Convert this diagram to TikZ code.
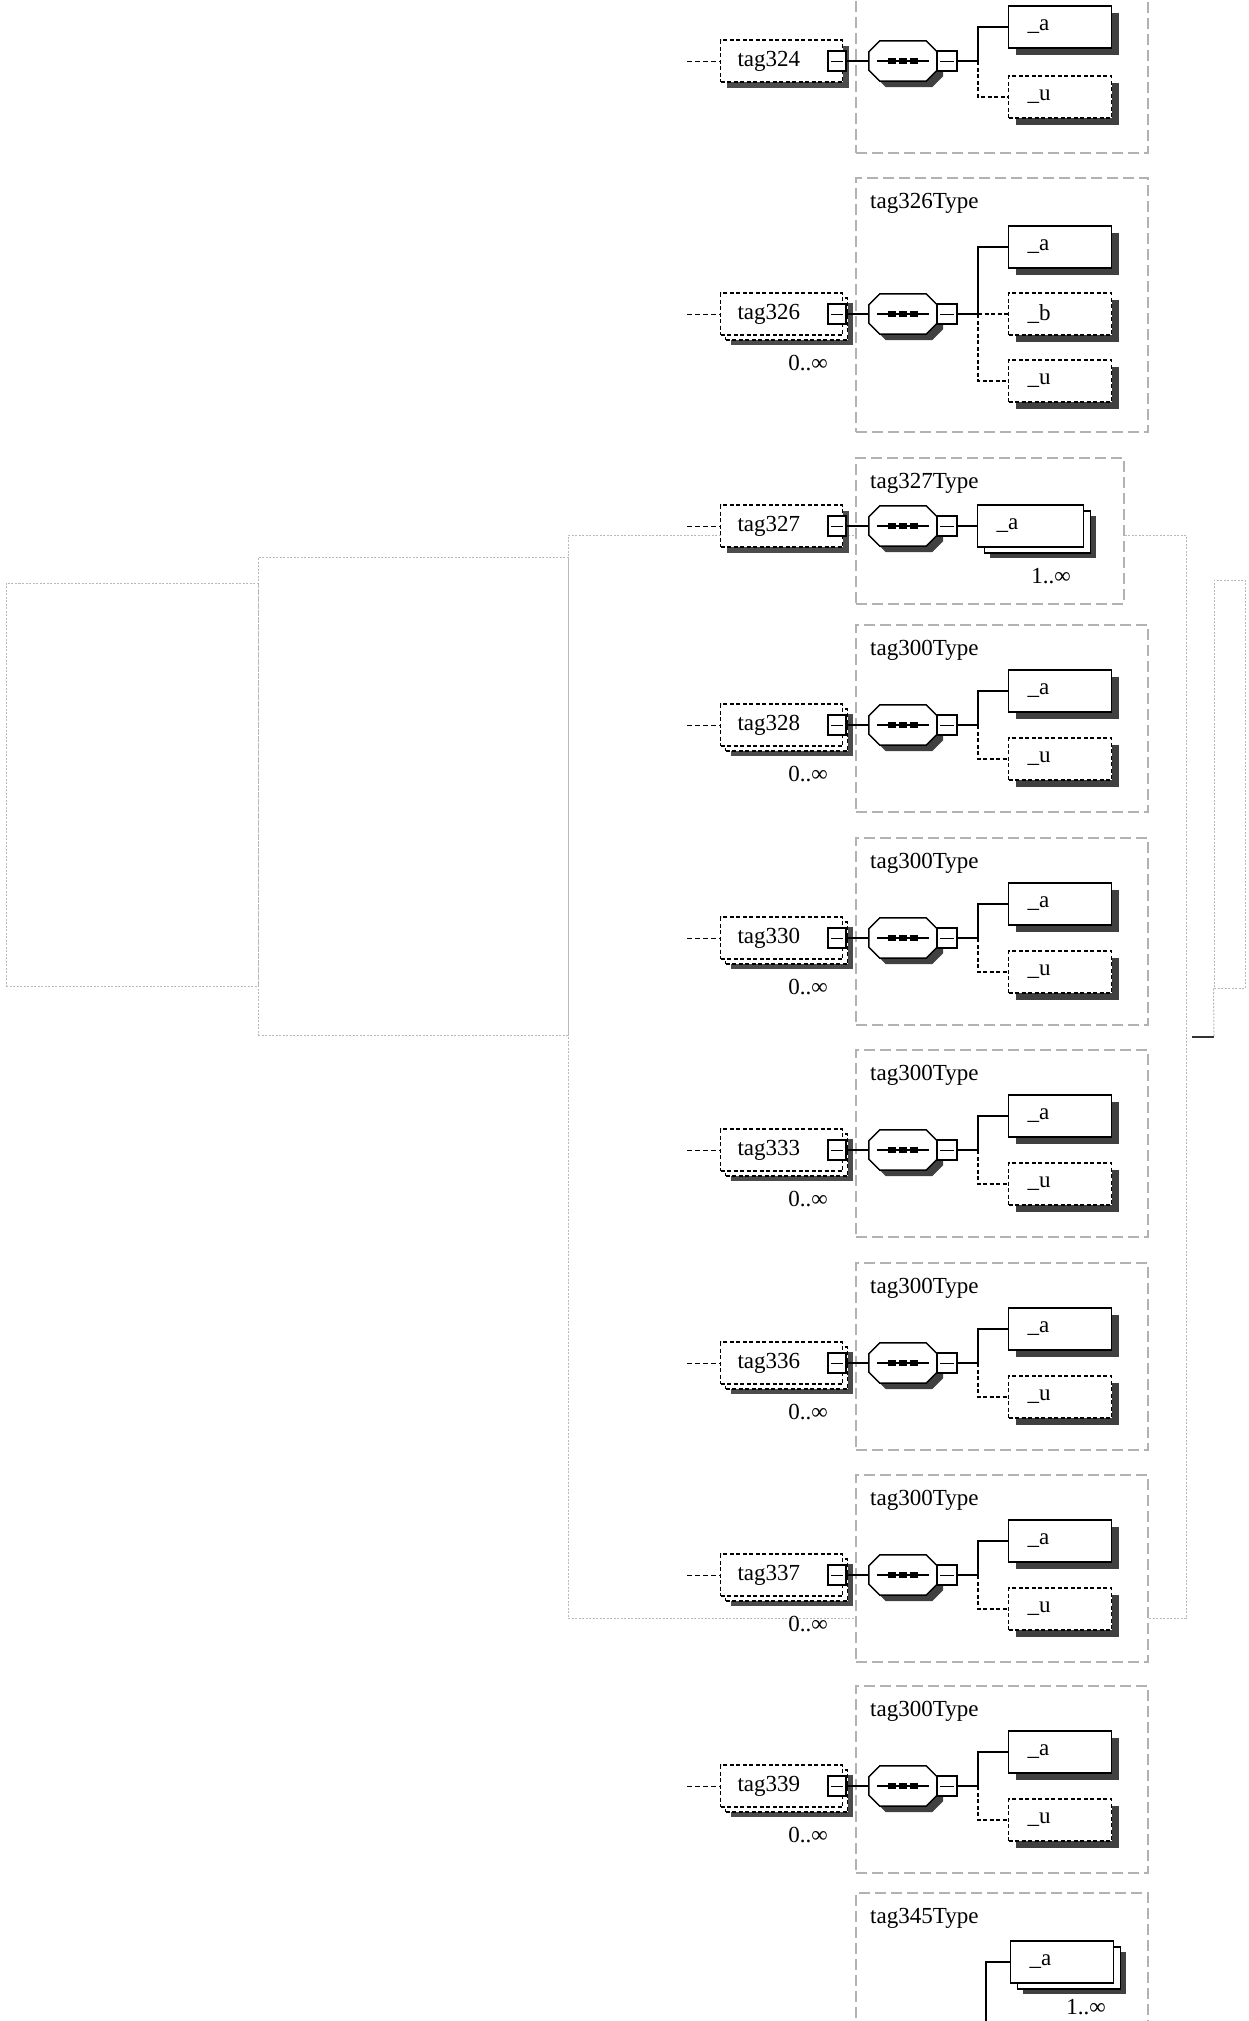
\documentclass[tikz,border=0pt]{standalone}
\usepackage{fontspec}
\setmainfont{Liberation Serif}
\usetikzlibrary{shadows}
\tikzset{
  txt/.style={font=\fontsize{23}{26}\selectfont},
  faintbox/.style={draw=gray!55, line width=1pt, dash pattern=on 2pt off 1.5pt, inner sep=0pt},
  typebox/.style={draw=gray!60, line width=1.2pt, dash pattern=on 11pt off 5pt, fill=white, inner sep=0pt},
  typelabel/.style={txt, anchor=west, inner sep=0pt},
  multlabel/.style={txt, inner sep=0pt},
  elembase/.style={txt, draw=black, line width=1.1pt, dash pattern=on 4pt off 2.5pt, fill=white,
    minimum height=42pt, text width=88pt, align=left, inner xsep=17pt, inner ysep=0pt, anchor=west},
  elemone/.style={elembase, drop shadow={shadow xshift=6pt, shadow yshift=-6pt, fill=black!70, opacity=1, draw=none}},
  elemmany/.style={elembase, drop shadow={shadow xshift=10pt, shadow yshift=-10pt, fill=black!70, opacity=1, draw=none},
    copy shadow={shadow xshift=5pt, shadow yshift=-5pt, draw=black, fill=white, line width=1.1pt, dash pattern=on 4pt off 2.5pt}},
  childbase/.style={txt, draw=black, line width=1.3pt, fill=white, minimum height=42pt, text width=65pt,
    align=left, inner xsep=19pt, inner ysep=0pt, anchor=west},
  childreq/.style={childbase, drop shadow={shadow xshift=7pt, shadow yshift=-7pt, fill=black!75, opacity=1, draw=none}},
  childopt/.style={childreq, dash pattern=on 4pt off 2.5pt, line width=1.1pt},
  childmany/.style={childbase, drop shadow={shadow xshift=12pt, shadow yshift=-11pt, fill=black!75, opacity=1, draw=none},
    copy shadow={shadow xshift=7pt, shadow yshift=-6pt, draw=black, fill=white, line width=1.3pt}},
  minus/.style={draw=black, line width=1.5pt, fill=white, minimum width=18pt, minimum height=20pt, inner sep=0pt,
    path picture={\draw[black, line width=1pt] ([xshift=3pt]path picture bounding box.west) -- ([xshift=-3pt]path picture bounding box.east);}},
  compbox/.style={minimum width=68pt, minimum height=40pt, inner sep=0pt},
  conn/.style={draw=black, line width=1.3pt},
  connopt/.style={draw=black, line width=1.1pt, dash pattern=on 4pt off 2.5pt},
  lead/.style={draw=black, line width=1pt, dash pattern=on 5pt off 3pt},
  thickmark/.style={draw=black!80, line width=2.5pt}
}
% octagon outline through the anchors of a node, shifted by #2,#3
\newcommand{\octpts}[3]{([xshift=#2+11pt,yshift=#3]#1.north west) -- ([xshift=#2-11pt,yshift=#3]#1.north east) -- ([xshift=#2,yshift=#3-11pt]#1.north east) -- ([xshift=#2,yshift=#3+11pt]#1.south east) -- ([xshift=#2-11pt,yshift=#3]#1.south east) -- ([xshift=#2+11pt,yshift=#3]#1.south west) -- ([xshift=#2,yshift=#3+11pt]#1.south west) -- ([xshift=#2,yshift=#3-11pt]#1.north west) -- cycle}
\newcommand{\seqsymbol}[1]{%
  \fill[black!75] \octpts{#1}{6pt}{-6pt};
  \draw[black, line width=1.5pt, fill=white] \octpts{#1}{0pt}{0pt};
  \draw[black, line width=1.2pt] ([xshift=8pt]#1.west) -- ([xshift=-8pt]#1.east);
  \foreach \dx in {-11,0,11}{\fill[black] ([xshift=\dx pt]#1.center) ++(-4,-3) rectangle ++(8,6);}
}
\begin{document}
\begin{tikzpicture}[x=1pt,y=-1pt]
\useasboundingbox (0,0) rectangle (1248,2021);
% faint background group boxes
\node[faintbox, minimum width=252pt, minimum height=403pt] (grpA) at (132,784.5) {};
\node[faintbox, minimum width=310pt, minimum height=478pt] (grpB) at (413,796) {};
\node[faintbox, minimum width=618pt, minimum height=1083pt] (grpC) at (877,1076.5) {};
\node[faintbox, minimum width=31pt, minimum height=408pt] (grpD) at (1229.5,784) {};
\coordinate (dk) at (1214,1037);
\coordinate (dk2) at (1192,1037);
\draw[faintbox] (grpD.south west) -- (dk);
\draw[thickmark] (dk2) -- (dk);

% row tag324
\node[typebox, minimum width=292pt, minimum height=160pt] (t324) at (1002,73) {};
\coordinate (l324) at (687,61);
\node[elemone] (e324) at (720,61) {tag324};
\node[minus] (m324) at (837,61) {};
\node[compbox] (k324) at (903,61) {};
\seqsymbol{k324}
\node[minus, minimum width=20pt] (q324) at (947,61) {};
\coordinate (b324) at (978,61);
\node[childreq] (a324) at (1008,27) {\_a};
\node[childopt] (u324) at (1008,97) {\_u};
\draw[lead] (l324) -- (e324.west);
\draw[conn] (m324.east) -- (k324.west);
\draw[conn] (q324.east) -- (b324);
\draw[conn] (b324) |- (a324.west);
\draw[connopt] (b324) |- (u324.west);

% row tag326
\node[typebox, minimum width=292pt, minimum height=254pt] (t326) at (1002,305) {};
\node[typelabel] (tl326) at (870,203) {tag326Type};
\coordinate (l326) at (687,314);
\node[elemmany] (e326) at (720,314) {tag326};
\node[multlabel] (ml326) at (808,363) {0..∞};
\node[minus] (m326) at (837,314) {};
\node[compbox] (k326) at (903,314) {};
\seqsymbol{k326}
\node[minus, minimum width=20pt] (q326) at (947,314) {};
\coordinate (b326) at (978,314);
\node[childreq] (a326) at (1008,247) {\_a};
\node[childopt] (bb326) at (1008,314) {\_b};
\node[childopt] (u326) at (1008,381) {\_u};
\draw[lead] (l326) -- (e326.west);
\draw[conn] (m326.east) -- (k326.west);
\draw[conn] (q326.east) -- (b326);
\draw[conn] (b326) |- (a326.west);
\draw[connopt] (b326) -- (bb326.west);
\draw[connopt] (b326) |- (u326.west);

% row tag327
\node[typebox, minimum width=268pt, minimum height=146pt] (t327) at (990,531) {};
\node[typelabel] (tl327) at (870,483) {tag327Type};
\coordinate (l327) at (687,526);
\node[elemone] (e327) at (720,526) {tag327};
\node[minus] (m327) at (837,526) {};
\node[compbox] (k327) at (903,526) {};
\seqsymbol{k327}
\node[minus, minimum width=20pt] (q327) at (947,526) {};
\node[childmany, text width=68pt] (a327) at (977,526) {\_a};
\node[multlabel] (ml327) at (1051,576) {1..∞};
\draw[lead] (l327) -- (e327.west);
\draw[conn] (m327.east) -- (k327.west);
\draw[conn] (q327.east) -- (a327.west);

% rows with tag300Type
\foreach \n/\c in {328/725,330/938,333/1150,336/1363,337/1575,339/1786}{
  \node[typebox, minimum width=292pt, minimum height=187pt] (t\n) at (1002,\c-6.5) {};
  \node[typelabel] (tl\n) at (870,\c-75) {tag300Type};
  \coordinate (l\n) at (687,\c);
  \node[elemmany] (e\n) at (720,\c) {tag\n};
  \node[multlabel] (ml\n) at (808,\c+49) {0..∞};
  \node[minus] (m\n) at (837,\c) {};
  \node[compbox] (k\n) at (903,\c) {};
  \seqsymbol{k\n}
  \node[minus, minimum width=20pt] (q\n) at (947,\c) {};
  \coordinate (b\n) at (978,\c);
  \node[childreq] (a\n) at (1008,\c-34) {\_a};
  \node[childopt] (u\n) at (1008,\c+34) {\_u};
  \draw[lead] (l\n) -- (e\n.west);
  \draw[conn] (m\n.east) -- (k\n.west);
  \draw[conn] (q\n.east) -- (b\n);
  \draw[conn] (b\n) |- (a\n.west);
  \draw[connopt] (b\n) |- (u\n.west);
}

% row tag345Type
\node[typebox, minimum width=292pt, minimum height=150pt] (t345) at (1002,1968) {};
\node[typelabel] (tl345) at (870,1918) {tag345Type};
\coordinate (b345) at (986,1962);
\coordinate (d345) at (986,2030);
\node[childmany] (a345) at (1010,1962) {\_a};
\node[multlabel] (ml345) at (1086,2007) {1..∞};
\draw[conn] (d345) -- (b345) -- (a345.west);
\end{tikzpicture}
\end{document}
